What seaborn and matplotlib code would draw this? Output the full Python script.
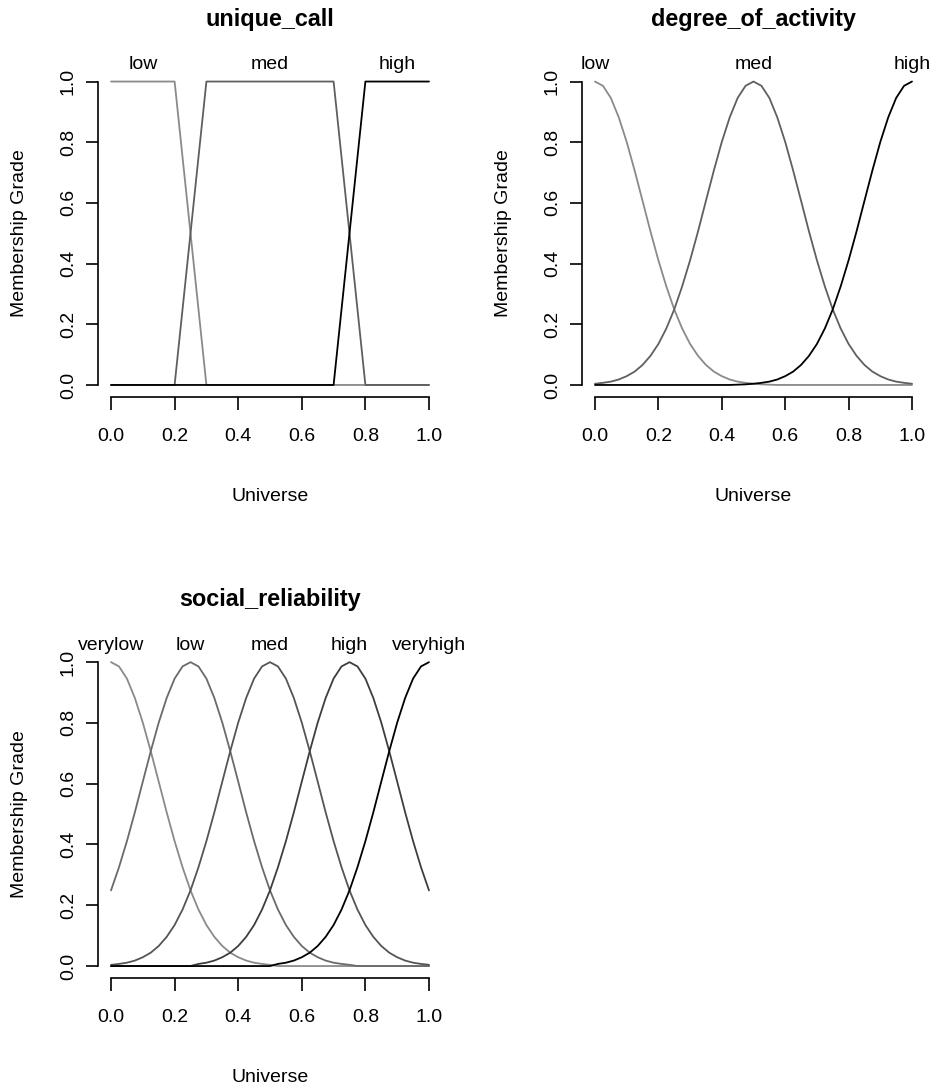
import numpy as np
import pandas as pd
import matplotlib
matplotlib.use("Agg")
import matplotlib.pyplot as plt
import seaborn as sns

sns.set_theme(style="white")
plt.rcParams["font.family"] = ["Liberation Sans", "DejaVu Sans"]
plt.rcParams["text.color"] = "black"
plt.rcParams["xtick.color"] = "black"
plt.rcParams["ytick.color"] = "black"
plt.rcParams["axes.labelcolor"] = "black"

# ---- unique_call: trapezoidal fuzzy sets --------------------------------
uc_x = [0.0, 0.2, 0.3, 0.7, 0.8, 1.0]
uc_low = [1.0, 1.0, 0.0, 0.0, 0.0, 0.0]
uc_med = [0.0, 0.0, 1.0, 1.0, 0.0, 0.0]
uc_high = [0.0, 0.0, 0.0, 0.0, 1.0, 1.0]
uc_labels = ["low", "med", "high"]
uc_label_at = [0.1, 0.5, 0.9]

# ---- universe grid for the bell-shaped sets (step 0.025) -----------------
grid = [0.000, 0.025, 0.050, 0.075, 0.100, 0.125, 0.150, 0.175, 0.200, 0.225,
        0.250, 0.275, 0.300, 0.325, 0.350, 0.375, 0.400, 0.425, 0.450, 0.475,
        0.500, 0.525, 0.550, 0.575, 0.600, 0.625, 0.650, 0.675, 0.700, 0.725,
        0.750, 0.775, 0.800, 0.825, 0.850, 0.875, 0.900, 0.925, 0.950, 0.975,
        1.000]

# ---- degree_of_activity --------------------------------------------------
da_low = [1.000, 0.986, 0.946, 0.882, 0.801, 0.707, 0.607, 0.506, 0.411, 0.325,
          0.249, 0.186, 0.135, 0.096, 0.066, 0.044, 0.029, 0.018, 0.011, 0.007,
          0.004, 0.002, 0.001, 0.000, 0.000, 0.000, 0.000, 0.000, 0.000, 0.000,
          0.000, 0.000, 0.000, 0.000, 0.000, 0.000, 0.000, 0.000, 0.000, 0.000,
          0.000]
da_med = [0.004, 0.007, 0.011, 0.018, 0.029, 0.044, 0.066, 0.096, 0.135, 0.186,
          0.249, 0.325, 0.411, 0.506, 0.607, 0.707, 0.801, 0.882, 0.946, 0.986,
          1.000, 0.986, 0.946, 0.882, 0.801, 0.707, 0.607, 0.506, 0.411, 0.325,
          0.249, 0.186, 0.135, 0.096, 0.066, 0.044, 0.029, 0.018, 0.011, 0.007,
          0.004]
da_high = [0.000, 0.000, 0.000, 0.000, 0.000, 0.000, 0.000, 0.000, 0.000, 0.000,
           0.000, 0.000, 0.000, 0.000, 0.000, 0.000, 0.000, 0.000, 0.001, 0.002,
           0.004, 0.007, 0.011, 0.018, 0.029, 0.044, 0.066, 0.096, 0.135, 0.186,
           0.249, 0.325, 0.411, 0.506, 0.607, 0.707, 0.801, 0.882, 0.946, 0.986,
           1.000]
da_labels = ["low", "med", "high"]
da_label_at = [0.0, 0.5, 1.0]

# ---- social_reliability --------------------------------------------------
sr_verylow = [1.000, 0.986, 0.946, 0.882, 0.801, 0.707, 0.607, 0.506, 0.411, 0.325,
              0.249, 0.186, 0.135, 0.096, 0.066, 0.044, 0.029, 0.018, 0.011, 0.007,
              0.004, 0.000, 0.000, 0.000, 0.000, 0.000, 0.000, 0.000, 0.000, 0.000,
              0.000, 0.000, 0.000, 0.000, 0.000, 0.000, 0.000, 0.000, 0.000, 0.000,
              0.000]
sr_low = [0.249, 0.325, 0.411, 0.506, 0.607, 0.707, 0.801, 0.882, 0.946, 0.986,
          1.000, 0.986, 0.946, 0.882, 0.801, 0.707, 0.607, 0.506, 0.411, 0.325,
          0.249, 0.186, 0.135, 0.096, 0.066, 0.044, 0.029, 0.018, 0.011, 0.007,
          0.004, 0.000, 0.000, 0.000, 0.000, 0.000, 0.000, 0.000, 0.000, 0.000,
          0.000]
sr_med = [0.004, 0.007, 0.011, 0.018, 0.029, 0.044, 0.066, 0.096, 0.135, 0.186,
          0.249, 0.325, 0.411, 0.506, 0.607, 0.707, 0.801, 0.882, 0.946, 0.986,
          1.000, 0.986, 0.946, 0.882, 0.801, 0.707, 0.607, 0.506, 0.411, 0.325,
          0.249, 0.186, 0.135, 0.096, 0.066, 0.044, 0.029, 0.018, 0.011, 0.007,
          0.004]
sr_high = [0.000, 0.000, 0.000, 0.000, 0.000, 0.000, 0.000, 0.000, 0.000, 0.000,
           0.000, 0.007, 0.011, 0.018, 0.029, 0.044, 0.066, 0.096, 0.135, 0.186,
           0.249, 0.325, 0.411, 0.506, 0.607, 0.707, 0.801, 0.882, 0.946, 0.986,
           1.000, 0.986, 0.946, 0.882, 0.801, 0.707, 0.607, 0.506, 0.411, 0.325,
           0.249]
sr_veryhigh = [0.000, 0.000, 0.000, 0.000, 0.000, 0.000, 0.000, 0.000, 0.000, 0.000,
               0.000, 0.000, 0.000, 0.000, 0.000, 0.000, 0.000, 0.000, 0.000, 0.000,
               0.000, 0.007, 0.011, 0.018, 0.029, 0.044, 0.066, 0.096, 0.135, 0.186,
               0.249, 0.325, 0.411, 0.506, 0.607, 0.707, 0.801, 0.882, 0.946, 0.986,
               1.000]
sr_labels = ["verylow", "low", "med", "high", "veryhigh"]
sr_label_at = [0.0, 0.25, 0.5, 0.75, 1.0]

ticks = [0.0, 0.2, 0.4, 0.6, 0.8, 1.0]
tick_text = ["0.0", "0.2", "0.4", "0.6", "0.8", "1.0"]

greys3 = ["#8a8a8a", "#5f5f5f", "#000000"]
greys5 = ["#8a8a8a", "#6a6a6a", "#555555", "#3e3e3e", "#000000"]

FS = 14

W, H = 933, 1091
fig = plt.figure(figsize=(W / 100, H / 100), dpi=100)


def make_axes(left_px, top_px, right_px, bottom_px):
    return fig.add_axes([left_px / W, 1 - bottom_px / H,
                         (right_px - left_px) / W, (bottom_px - top_px) / H])


def draw_panel(ax, title, x, series, names, label_at, colors):
    for vals, col in zip(series, colors):
        df = pd.DataFrame({"Universe": x, "grade": vals})
        sns.lineplot(data=df, x="Universe", y="grade", ax=ax, color=col,
                     linewidth=1.3, sort=False, estimator=None)
    ax.set_xlim(-0.04, 1.04)
    ax.set_ylim(-0.04, 1.04)
    ax.set_xlabel("")
    ax.set_ylabel("")
    for side in ("top", "right"):
        ax.spines[side].set_visible(False)
    for side in ("left", "bottom"):
        ax.spines[side].set_color("black")
        ax.spines[side].set_linewidth(1.2)
        ax.spines[side].set_bounds(0, 1)
    ax.set_xticks(ticks)
    ax.set_xticklabels(tick_text, fontsize=FS)
    ax.set_yticks(ticks)
    ax.set_yticklabels(tick_text, fontsize=FS, rotation=90, va="center")
    ax.tick_params(axis="both", direction="out", length=9, width=1.2,
                   color="black", labelcolor="black", bottom=True, left=True)
    ax.tick_params(axis="x", pad=13)
    ax.tick_params(axis="y", pad=6.5)
    ax.set_facecolor("white")
    ax.grid(False)
    for name, pos in zip(names, label_at):
        ax.text(pos, 1.04, name, ha="center", va="baseline", fontsize=FS,
                color="black", clip_on=False)
    ax.text(0.5, 1.205, title, ha="center", va="center", fontsize=16.8,
            fontweight="bold", color="black", clip_on=False)
    ax.text(0.5, -0.366, "Universe", ha="center", va="center", fontsize=FS,
            color="black", clip_on=False)
    ax.text(-0.287, 0.5, "Membership Grade", ha="center", va="center",
            rotation=90, fontsize=FS, color="black", clip_on=False)


ax1 = make_axes(98.3, 69.4, 441.7, 397.1)
draw_panel(ax1, "unique_call", uc_x, [uc_low, uc_med, uc_high],
           uc_labels, uc_label_at, greys3)

ax2 = make_axes(582.3, 69.4, 924.7, 397.1)
draw_panel(ax2, "degree_of_activity", grid, [da_low, da_med, da_high],
           da_labels, da_label_at, greys3)

ax3 = make_axes(98.3, 650.0, 441.7, 978.2)
draw_panel(ax3, "social_reliability", grid,
           [sr_verylow, sr_low, sr_med, sr_high, sr_veryhigh],
           sr_labels, sr_label_at, greys5)

fig.savefig("out.png", dpi=100, facecolor="white")
